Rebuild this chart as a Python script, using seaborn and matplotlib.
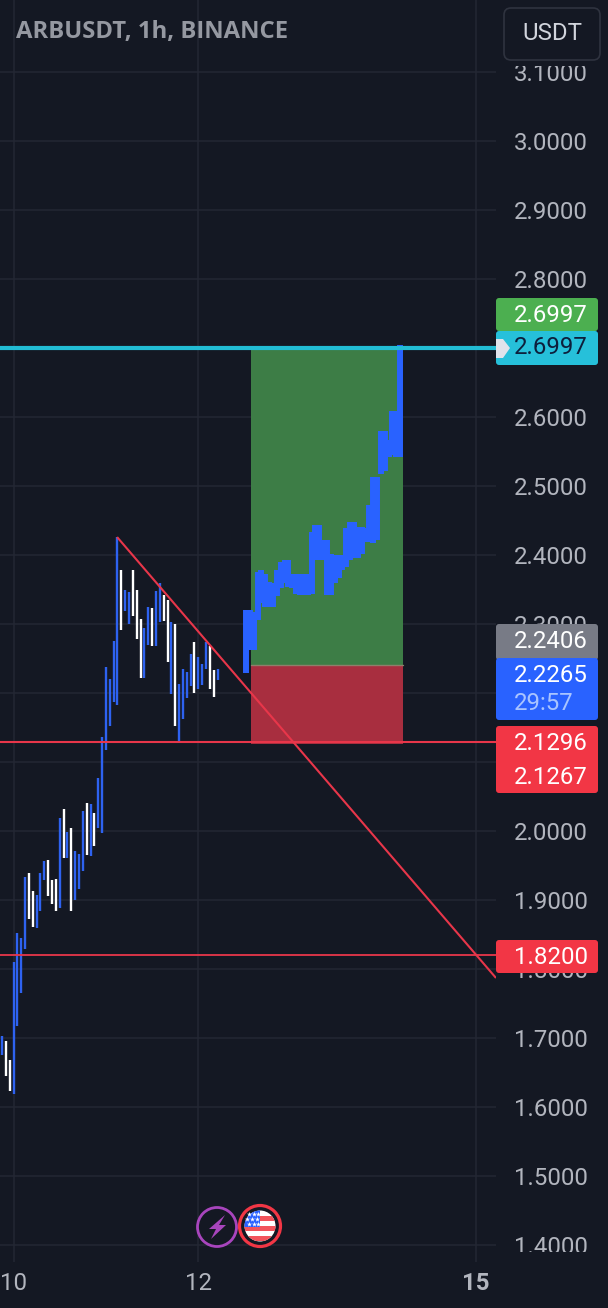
import numpy as np
import pandas as pd
import matplotlib
matplotlib.use("Agg")
import matplotlib.pyplot as plt
from matplotlib.patches import FancyBboxPatch, Circle, Rectangle, Polygon
import seaborn as sns

# ---------- data ----------
hist_high = [1.703,1.696,1.668,1.810,1.852,1.845,1.933,1.939,1.913,1.907,1.939,1.956,1.958,1.929,1.930,2.019,2.032,1.999,2.004,
             1.971,1.967,2.029,2.041,2.039,2.026,2.077,2.136,2.238,2.220,2.275,2.426,2.378,2.349,2.346,2.378,2.349,2.307,2.294,
             2.325,2.323,2.348,2.359,2.342,2.335,2.303,2.300,2.213,2.235,2.230,2.256,2.274,2.252,2.242,2.274,2.268,2.233,2.235]
hist_low = [1.675,1.645,1.623,1.619,1.717,1.765,1.829,1.872,1.861,1.859,1.884,1.929,1.906,1.894,1.884,1.888,1.961,1.961,1.884,
            1.900,1.916,1.942,1.965,1.964,1.978,2.004,1.997,2.117,2.152,2.187,2.183,2.291,2.319,2.300,2.312,2.278,2.222,2.222,
            2.270,2.268,2.268,2.303,2.304,2.245,2.199,2.152,2.129,2.162,2.193,2.210,2.200,2.206,2.212,2.235,2.206,2.194,2.219]
hist_kind = list("bwwbbbbwwbbbwwwbwbwbbbwbwbbbbbbwbbwwwbbwbbwwbwbbbbwbbbwwb")
fc_high = [2.321,2.321,2.318,2.376,2.378,2.373,2.361,2.359,2.378,2.390,2.393,2.393,2.373,2.373,2.373,2.373,2.373,2.434,2.443,2.443,
           2.422,2.422,2.402,2.400,2.400,2.400,2.439,2.448,2.448,2.441,2.441,2.439,2.472,2.513,2.513,2.579,2.579,2.567,2.608,2.608,2.704]
fc_low = [2.229,2.262,2.262,2.306,2.330,2.325,2.325,2.325,2.340,2.352,2.359,2.354,2.352,2.344,2.342,2.342,2.342,2.344,2.393,2.393,
          2.393,2.342,2.342,2.359,2.366,2.378,2.383,2.393,2.395,2.395,2.402,2.419,2.419,2.417,2.422,2.518,2.521,2.542,2.545,2.542,2.542]
price_ticks = [1.4,1.5,1.6,1.7,1.8,1.9,2.0,2.1,2.2,2.3,2.4,2.5,2.6,2.7,2.8,2.9,3.0,3.1]
hidden_ticks = [2.1, 2.2, 2.7]
day_hours = [0, 48, 120]
day_labels = ["10", "12", "15"]
target_price, entry_price, stop_price = 2.6997, 2.2406, 2.1267
support_a, support_b = 2.1296, 1.8200
box_hours = (61.7, 101.2)
trend_hours = (26.9, 125.3)
trend_prices = (2.426, 1.787)

BG = "#141823"
GRID = "#232733"
BLUE = "#2e62f0"
FBLUE = "#2962ff"
RED = "#f23645"

sns.set_theme(style="dark", rc={"axes.facecolor": BG, "figure.facecolor": BG})
plt.rcParams["font.family"] = ["Roboto", "DejaVu Sans"]

fig = plt.figure(figsize=(6.08, 13.08), dpi=100)
ax = fig.add_axes([0, 1 - 1262 / 1308, 496 / 608, 1262 / 1308])
ax.set_xlim(-3.506, 125.3)
ax.set_ylim(1.3754, 3.2043)
for s in ax.spines.values():
    s.set_visible(False)

# ---------- long tables for seaborn ----------
rows = []
for i, (hi, lo, k) in enumerate(zip(hist_high, hist_low, hist_kind)):
    for p in (lo, hi):
        rows.append({"hour": i - 3, "price": p, "bar": i, "kind": k})
hist = pd.DataFrame(rows)
rows = []
for i, (hi, lo) in enumerate(zip(fc_high, fc_low)):
    for p in (lo, hi):
        rows.append({"hour": 60.4 + i, "price": p, "bar": i})
fc = pd.DataFrame(rows)

ax.set_axisbelow(True)
ax.grid(True, color=GRID, lw=1.1)
ax.fill_between(box_hours, entry_price, target_price, color="#3d7d46", lw=0, zorder=1.5)
ax.fill_between(box_hours, stop_price, entry_price, color="#a82e3f", lw=0, zorder=1.5)
ax.plot(box_hours, [entry_price] * 2, color="#8f7f6a", lw=1, zorder=1.6)

sns.lineplot(data=hist, x="hour", y="price", hue="kind", units="bar", estimator=None,
             palette={"b": BLUE, "w": "#ffffff"}, lw=1.7, solid_capstyle="butt",
             legend=False, ax=ax, zorder=2, sort=False)
sns.lineplot(data=fc, x="hour", y="price", units="bar", estimator=None, color=FBLUE,
             lw=4.3, solid_capstyle="butt", legend=False, ax=ax, zorder=3, sort=False)

ax.plot(trend_hours, trend_prices, color="#e8364a", lw=1.5, zorder=4, solid_capstyle="butt")
ax.axhline(support_a, color="#e8364a", lw=1.5, zorder=4)
ax.axhline(support_b, color="#e8364a", lw=1.3, zorder=4)
ax.axhline(target_price, color="#22bcd4", lw=3.0, zorder=4)

ax.set_xlabel("")
ax.set_ylabel("")
ax.yaxis.tick_right()
ax.set_yticks(price_ticks)
ax.set_yticklabels(["" if p in hidden_ticks else f"{p:.4f}" for p in price_ticks],
                   color="#b2b5be", fontsize=17.3, ha="left")
ax.tick_params(axis="y", length=0, pad=13)
ax.set_xticks(day_hours)
ax.set_xticklabels(day_labels, fontsize=17.3, color="#b2b5be")
ax.tick_params(axis="x", length=0, pad=7)
ax.get_xticklabels()[2].set_fontweight("bold")

# ---------- pixel overlay: header, price tags, icons ----------
ov = fig.add_axes([0, 0, 1, 1], facecolor="none")
ov.set_xlim(0, 608)
ov.set_ylim(1308, 0)
ov.axis("off")

# the price scale clips its first and last labels
ov.add_patch(Rectangle((500, 60), 108, 5.5, fc=BG, ec="none"))
ov.add_patch(Rectangle((500, 1252), 108, 12, fc=BG, ec="none"))

ov.text(16, 32, "ARBUSDT, 1h, BINANCE", family="Open Sans", fontweight="bold",
        fontsize=17.2, color="#9598a1", va="center", ha="left")
ov.add_patch(FancyBboxPatch((504, 8), 96, 52, boxstyle="round,pad=0,rounding_size=7",
                            fc=BG, ec="#2f333f", lw=1.2))
ov.text(552, 34, "USDT", fontsize=17.3, color="#d1d4dc", ha="center", va="center")


def tag(top, bottom, color):
    ov.add_patch(FancyBboxPatch((496, top), 102, bottom - top, boxstyle="round,pad=0,rounding_size=3",
                                fc=color, ec="none", zorder=5))


def label(y, s, color="#ffffff"):
    ov.text(514, y, s, fontsize=17.3, color=color, va="center", ha="left", zorder=7)


tag(298, 331, "#4caf50")
label(315, "2.6997")
tag(331, 365, "#26c0da")
label(348, "2.6997", "#0d1f3c")
ov.add_patch(Polygon([(496, 339), (503, 339), (510, 348), (503, 358), (496, 358)], fc="#e0e3eb", ec="none", zorder=6))
tag(624, 660, "#787b86")
label(642, "2.2406")
tag(658, 720, "#2962ff")
label(675, "2.2265")
label(704, "29:57", "#a9c4ff")
tag(726, 793, RED)
label(743, "2.1296")
label(777, "2.1267")
tag(940, 973, RED)
label(957, "1.8200")

# lightning icon
ov.add_patch(Circle((217, 1227), 19.5, fc=BG, ec="#a845bd", lw=2))
ov.add_patch(Polygon([(225, 1215), (209, 1229), (216, 1229), (211, 1239), (226, 1225), (219, 1225)],
                     fc="#a845bd", ec="none"))

# flag icon
ov.add_patch(Circle((260, 1226), 20.5, fc=BG, ec=RED, lw=2.3))
clip = Circle((260, 1226), 15.5, transform=ov.transData)
parts = [Rectangle((244, 1210), 32, 32, fc="#ffffff", ec="none")]
for y0 in (1216, 1226, 1236):
    parts.append(Rectangle((244, y0), 32, 5, fc="#f2545b", ec="none"))
parts.append(Rectangle((244, 1210), 16, 17, fc="#2962ff", ec="none"))
for p in parts:
    ov.add_patch(p)
    p.set_clip_path(clip)
ov.set_xlim(0, 608)
ov.set_ylim(1308, 0)
ov.scatter([249, 254, 258, 247, 252, 257, 249, 254, 258], [1214, 1214, 1214, 1219, 1219, 1219, 1224, 1224, 1224],
           marker="*", s=14, c="#ffffff", linewidths=0, zorder=6)

fig.savefig("out.png", dpi=100, facecolor=BG)
